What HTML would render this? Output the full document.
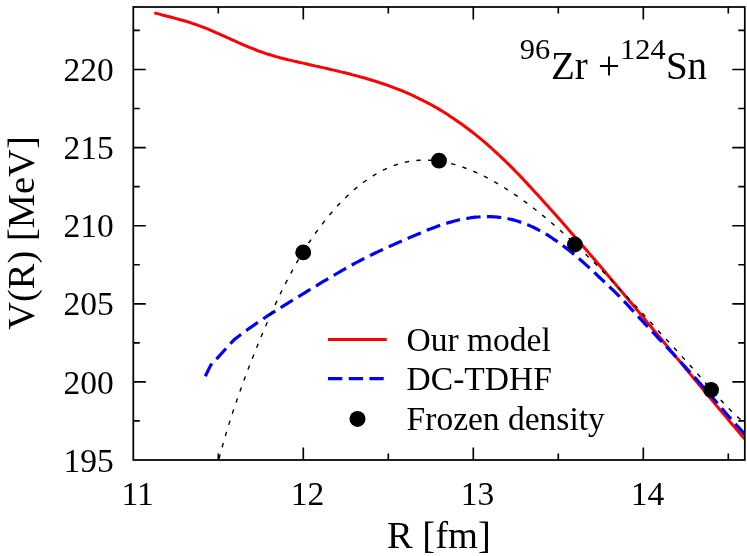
<!DOCTYPE html>
<html><head><meta charset="utf-8"><title>plot</title>
<style>
html,body{margin:0;padding:0;background:#fff;}
body{width:747px;height:556px;overflow:hidden;position:relative;font-family:"Liberation Serif",serif;}
svg{position:absolute;left:0;top:0;will-change:transform;}
text{font-family:"Liberation Serif",serif;fill:#000;}
</style></head><body>
<svg width="747" height="556" viewBox="0 0 747 556">
<rect x="0" y="0" width="747" height="556" fill="#fff"/>
<defs><clipPath id="c"><rect x="133.3" y="7.0" width="611.5" height="453.0"/></clipPath></defs>

<g clip-path="url(#c)" fill="none">
<path d="M154.3,12.9 L156.3,13.4 L158.3,13.9 L160.3,14.4 L162.3,15.0 L164.3,15.5 L166.3,16.0 L168.3,16.5 L170.3,17.0 L172.3,17.5 L174.2,18.1 L176.2,18.6 L178.2,19.1 L180.2,19.7 L182.2,20.3 L184.2,20.8 L186.2,21.4 L188.2,22.0 L190.2,22.6 L192.2,23.3 L194.2,24.0 L196.2,24.6 L198.2,25.4 L200.2,26.1 L202.2,26.9 L204.2,27.6 L206.2,28.4 L208.2,29.2 L210.2,30.1 L212.2,30.9 L214.1,31.8 L216.1,32.7 L218.1,33.5 L220.1,34.4 L222.1,35.3 L224.1,36.2 L226.1,37.1 L228.1,38.0 L230.1,38.9 L232.1,39.8 L234.1,40.7 L236.1,41.6 L238.1,42.5 L240.1,43.4 L242.1,44.3 L244.1,45.1 L246.1,46.0 L248.1,46.8 L250.1,47.6 L252.1,48.4 L254.0,49.2 L256.0,50.0 L258.0,50.8 L260.0,51.5 L262.0,52.2 L264.0,52.9 L266.0,53.6 L268.0,54.2 L270.0,54.8 L272.0,55.4 L274.0,56.0 L276.0,56.6 L278.0,57.1 L280.0,57.7 L282.0,58.2 L284.0,58.7 L286.0,59.2 L288.0,59.7 L290.0,60.1 L292.0,60.6 L293.9,61.1 L295.9,61.5 L297.9,62.0 L299.9,62.5 L301.9,62.9 L303.9,63.4 L305.9,63.8 L307.9,64.3 L309.9,64.7 L311.9,65.2 L313.9,65.6 L315.9,66.1 L317.9,66.5 L319.9,67.0 L321.9,67.4 L323.9,67.9 L325.9,68.3 L327.9,68.8 L329.9,69.2 L331.8,69.7 L333.8,70.1 L335.8,70.6 L337.8,71.1 L339.8,71.6 L341.8,72.1 L343.8,72.5 L345.8,73.0 L347.8,73.5 L349.8,74.0 L351.8,74.6 L353.8,75.1 L355.8,75.6 L357.8,76.1 L359.8,76.7 L361.8,77.2 L363.8,77.8 L365.8,78.4 L367.8,79.0 L369.8,79.5 L371.7,80.2 L373.7,80.8 L375.7,81.4 L377.7,82.0 L379.7,82.7 L381.7,83.3 L383.7,84.0 L385.7,84.7 L387.7,85.4 L389.7,86.1 L391.7,86.8 L393.7,87.6 L395.7,88.3 L397.7,89.1 L399.7,89.9 L401.7,90.7 L403.7,91.5 L405.7,92.4 L407.7,93.2 L409.7,94.1 L411.6,95.0 L413.6,95.9 L415.6,96.9 L417.6,97.8 L419.6,98.8 L421.6,99.8 L423.6,100.8 L425.6,101.8 L427.6,102.9 L429.6,103.9 L431.6,105.0 L433.6,106.1 L435.6,107.3 L437.6,108.4 L439.6,109.6 L441.6,110.8 L443.6,112.0 L445.6,113.3 L447.6,114.6 L449.6,115.9 L451.5,117.2 L453.5,118.5 L455.5,119.9 L457.5,121.2 L459.5,122.7 L461.5,124.1 L463.5,125.5 L465.5,127.0 L467.5,128.5 L469.5,130.0 L471.5,131.5 L473.5,133.1 L475.5,134.7 L477.5,136.3 L479.5,137.9 L481.5,139.6 L483.5,141.2 L485.5,142.9 L487.5,144.7 L489.4,146.4 L491.4,148.2 L493.4,150.0 L495.4,151.8 L497.4,153.6 L499.4,155.5 L501.4,157.4 L503.4,159.3 L505.4,161.2 L507.4,163.2 L509.4,165.1 L511.4,167.1 L513.4,169.1 L515.4,171.2 L517.4,173.2 L519.4,175.3 L521.4,177.4 L523.4,179.5 L525.4,181.6 L527.4,183.7 L529.3,185.9 L531.3,188.0 L533.3,190.2 L535.3,192.4 L537.3,194.6 L539.3,196.8 L541.3,199.0 L543.3,201.2 L545.3,203.4 L547.3,205.6 L549.3,207.9 L551.3,210.1 L553.3,212.3 L555.3,214.6 L557.3,216.8 L559.3,219.1 L561.3,221.3 L563.3,223.6 L565.3,225.9 L567.3,228.1 L569.2,230.4 L571.2,232.7 L573.2,235.0 L575.2,237.2 L577.2,239.5 L579.2,241.8 L581.2,244.1 L583.2,246.4 L585.2,248.7 L587.2,251.0 L589.2,253.4 L591.2,255.7 L593.2,258.0 L595.2,260.3 L597.2,262.7 L599.2,265.0 L601.2,267.3 L603.2,269.7 L605.2,272.0 L607.1,274.4 L609.1,276.7 L611.1,279.1 L613.1,281.5 L615.1,283.8 L617.1,286.2 L619.1,288.6 L621.1,290.9 L623.1,293.3 L625.1,295.7 L627.1,298.1 L629.1,300.4 L631.1,302.8 L633.1,305.2 L635.1,307.6 L637.1,310.0 L639.1,312.4 L641.1,314.8 L643.1,317.2 L645.1,319.6 L647.0,322.0 L649.0,324.4 L651.0,326.8 L653.0,329.2 L655.0,331.6 L657.0,334.0 L659.0,336.4 L661.0,338.8 L663.0,341.2 L665.0,343.6 L667.0,346.0 L669.0,348.4 L671.0,350.9 L673.0,353.3 L675.0,355.7 L677.0,358.1 L679.0,360.5 L681.0,362.9 L683.0,365.3 L685.0,367.7 L686.9,370.1 L688.9,372.5 L690.9,374.9 L692.9,377.3 L694.9,379.7 L696.9,382.1 L698.9,384.5 L700.9,386.9 L702.9,389.3 L704.9,391.7 L706.9,394.1 L708.9,396.5 L710.9,398.9 L712.9,401.3 L714.9,403.7 L716.9,406.1 L718.9,408.4 L720.9,410.8 L722.9,413.2 L724.9,415.6 L726.8,417.9 L728.8,420.3 L730.8,422.7 L732.8,425.0 L734.8,427.4 L736.8,429.7 L738.8,432.1 L740.8,434.4 L742.8,436.8 L744.8,439.1" stroke="#ff0000" stroke-width="3" stroke-linejoin="round"/>
<path d="M205.3,376.3 L210.6,365.4 L234.0,339.8 L236.0,338.2 L238.0,336.7 L240.0,335.2 L242.0,333.7 L244.0,332.2 L246.0,330.7 L248.0,329.3 L250.0,327.9 L252.0,326.5 L254.0,325.1 L255.9,323.7 L257.9,322.3 L259.9,321.0 L261.9,319.7 L263.9,318.3 L265.9,317.0 L267.9,315.7 L269.9,314.4 L271.9,313.2 L273.9,311.9 L275.9,310.6 L277.9,309.4 L279.9,308.1 L281.9,306.9 L283.9,305.6 L285.9,304.4 L287.9,303.2 L289.9,301.9 L291.9,300.7 L293.9,299.5 L295.9,298.3 L297.9,297.1 L299.8,295.8 L301.8,294.6 L303.8,293.4 L305.8,292.2 L307.8,290.9 L309.8,289.7 L311.8,288.5 L313.8,287.3 L315.8,286.1 L317.8,284.9 L319.8,283.7 L321.8,282.4 L323.8,281.2 L325.8,280.1 L327.8,278.9 L329.8,277.7 L331.8,276.5 L333.8,275.3 L335.8,274.2 L337.8,273.0 L339.8,271.8 L341.7,270.7 L343.7,269.6 L345.7,268.4 L347.7,267.3 L349.7,266.2 L351.7,265.1 L353.7,264.0 L355.7,262.9 L357.7,261.9 L359.7,260.8 L361.7,259.8 L363.7,258.7 L365.7,257.7 L367.7,256.7 L369.7,255.7 L371.7,254.8 L373.7,253.8 L375.7,252.8 L377.7,251.9 L379.7,250.9 L381.7,250.0 L383.6,249.1 L385.6,248.2 L387.6,247.3 L389.6,246.4 L391.6,245.5 L393.6,244.6 L395.6,243.7 L397.6,242.8 L399.6,241.9 L401.6,241.1 L403.6,240.2 L405.6,239.4 L407.6,238.5 L409.6,237.6 L411.6,236.8 L413.6,235.9 L415.6,235.1 L417.6,234.2 L419.6,233.4 L421.6,232.6 L423.6,231.7 L425.5,230.9 L427.5,230.1 L429.5,229.3 L431.5,228.6 L433.5,227.8 L435.5,227.1 L437.5,226.3 L439.5,225.6 L441.5,225.0 L443.5,224.3 L445.5,223.6 L447.5,223.0 L449.5,222.4 L451.5,221.9 L453.5,221.3 L455.5,220.8 L457.5,220.3 L459.5,219.8 L461.5,219.4 L463.5,219.0 L465.5,218.6 L467.5,218.3 L469.4,218.0 L471.4,217.7 L473.4,217.4 L475.4,217.2 L477.4,217.0 L479.4,216.9 L481.4,216.7 L483.4,216.7 L485.4,216.6 L487.4,216.6 L489.4,216.6 L491.4,216.7 L493.4,216.8 L495.4,216.9 L497.4,217.1 L499.4,217.3 L501.4,217.5 L503.4,217.8 L505.4,218.2 L507.4,218.5 L509.4,219.0 L511.3,219.4 L513.3,219.9 L515.3,220.5 L517.3,221.0 L519.3,221.7 L521.3,222.4 L523.3,223.1 L525.3,223.8 L527.3,224.6 L529.3,225.5 L531.3,226.4 L533.3,227.3 L535.3,228.3 L537.3,229.3 L539.3,230.4 L541.3,231.4 L543.3,232.6 L545.3,233.7 L547.3,234.9 L549.3,236.2 L551.3,237.5 L553.2,238.8 L555.2,240.1 L557.2,241.5 L559.2,242.9 L561.2,244.4 L563.2,245.8 L565.2,247.4 L567.2,248.9 L569.2,250.5 L571.2,252.1 L573.2,253.7 L575.2,255.4 L577.2,257.1 L579.2,258.8 L581.2,260.5 L583.2,262.3 L585.2,264.1 L587.2,265.9 L589.2,267.7 L591.2,269.5 L593.2,271.4 L595.2,273.2 L597.1,275.1 L599.1,277.0 L601.1,278.9 L603.1,280.7 L605.1,282.6 L607.1,284.5 L609.1,286.4 L611.1,288.3 L613.1,290.2 L615.1,292.1 L617.1,294.1 L619.1,296.1 L621.1,298.1 L623.1,300.2 L625.1,302.3 L627.1,304.4 L629.1,306.6 L631.1,308.8 L633.1,310.9 L635.1,313.1 L637.1,315.3 L639.0,317.4 L641.0,319.6 L643.0,321.7 L645.0,323.9 L647.0,326.0 L649.0,328.1 L651.0,330.3 L653.0,332.4 L655.0,334.5 L657.0,336.6 L659.0,338.8 L661.0,340.9 L663.0,343.0 L665.0,345.2 L667.0,347.3 L669.0,349.4 L671.0,351.6 L673.0,353.7 L675.0,355.8 L677.0,358.0 L679.0,360.2 L680.9,362.3 L682.9,364.5 L684.9,366.7 L686.9,368.9 L688.9,371.0 L690.9,373.3 L692.9,375.5 L694.9,377.7 L696.9,379.9 L698.9,382.2 L700.9,384.4 L702.9,386.7 L704.9,389.0 L706.9,391.3 L708.9,393.5 L710.9,395.8 L712.9,398.1 L714.9,400.4 L716.9,402.7 L718.9,405.0 L720.9,407.3 L722.9,409.6 L724.8,411.9 L726.8,414.2 L728.8,416.5 L730.8,418.7 L732.8,421.0 L734.8,423.3 L736.8,425.5 L738.8,427.7 L740.8,429.9 L742.8,432.1 L744.8,434.3" stroke="#0000ff" stroke-width="3.2" stroke-dasharray="14.3 6.4" stroke-linejoin="round"/>
<path d="M219.1,458.6 L221.1,451.0 L223.1,443.8 L225.1,436.8 L227.1,430.1 L229.1,423.6 L231.1,417.4 L233.1,411.3 L235.1,405.3 L237.1,399.5 L239.1,393.8 L241.1,388.2 L243.1,382.7 L245.1,377.2 L247.1,371.9 L249.1,366.7 L251.1,361.5 L253.1,356.4 L255.1,351.4 L257.1,346.4 L259.1,341.5 L261.1,336.7 L263.1,332.0 L265.1,327.3 L267.1,322.7 L269.1,318.2 L271.1,313.7 L273.1,309.3 L275.1,304.9 L277.1,300.7 L279.1,296.5 L281.1,292.3 L283.1,288.3 L285.1,284.3 L287.1,280.4 L289.1,276.5 L291.1,272.8 L293.1,269.1 L295.1,265.5 L297.1,261.9 L299.1,258.5 L301.1,255.2 L303.1,251.9 L305.1,248.7 L307.0,245.6 L309.0,242.5 L311.0,239.5 L313.0,236.6 L315.0,233.8 L317.0,231.0 L319.0,228.3 L321.0,225.7 L323.0,223.1 L325.0,220.5 L327.0,218.1 L329.0,215.6 L331.0,213.3 L333.0,211.0 L335.0,208.7 L337.0,206.5 L339.0,204.3 L341.0,202.2 L343.0,200.2 L345.0,198.2 L347.0,196.3 L349.0,194.4 L351.0,192.5 L353.0,190.8 L355.0,189.0 L357.0,187.4 L359.0,185.7 L361.0,184.2 L363.0,182.6 L365.0,181.2 L367.0,179.8 L369.0,178.4 L371.0,177.1 L373.0,175.8 L375.0,174.6 L377.0,173.4 L379.0,172.3 L381.0,171.3 L383.0,170.2 L385.0,169.3 L387.0,168.4 L389.0,167.5 L391.0,166.7 L393.0,165.9 L395.0,165.2 L397.0,164.5 L399.0,163.9 L401.0,163.3 L403.0,162.8 L405.0,162.3 L407.0,161.9 L409.0,161.5 L411.0,161.2 L413.0,160.9 L415.0,160.7 L417.0,160.5 L419.0,160.3 L421.0,160.2 L423.0,160.2 L425.0,160.1 L427.0,160.2 L429.0,160.2 L431.0,160.3 L433.0,160.5 L435.0,160.7 L437.0,160.9 L439.0,161.2 L441.0,161.5 L443.0,161.8 L445.0,162.2 L447.0,162.6 L449.0,163.1 L451.0,163.6 L453.0,164.1 L455.0,164.7 L457.0,165.3 L459.0,165.9 L461.0,166.5 L463.0,167.2 L465.0,168.0 L467.0,168.7 L469.0,169.5 L471.0,170.3 L473.0,171.1 L475.0,172.0 L477.0,172.9 L479.0,173.8 L481.0,174.8 L482.9,175.7 L484.9,176.7 L486.9,177.7 L488.9,178.8 L490.9,179.9 L492.9,181.0 L494.9,182.1 L496.9,183.2 L498.9,184.4 L500.9,185.6 L502.9,186.8 L504.9,188.0 L506.9,189.3 L508.9,190.6 L510.9,191.9 L512.9,193.2 L514.9,194.6 L516.9,195.9 L518.9,197.3 L520.9,198.7 L522.9,200.2 L524.9,201.6 L526.9,203.1 L528.9,204.6 L530.9,206.1 L532.9,207.7 L534.9,209.2 L536.9,210.8 L538.9,212.4 L540.9,214.0 L542.9,215.6 L544.9,217.2 L546.9,218.9 L548.9,220.6 L550.9,222.3 L552.9,224.0 L554.9,225.7 L556.9,227.5 L558.9,229.2 L560.9,231.0 L562.9,232.8 L564.9,234.6 L566.9,236.4 L568.9,238.2 L570.9,240.1 L572.9,241.9 L574.9,243.8 L576.9,245.7 L578.9,247.6 L580.9,249.5 L582.9,251.5 L584.9,253.4 L586.9,255.4 L588.9,257.3 L590.9,259.3 L592.9,261.3 L594.9,263.3 L596.9,265.3 L598.9,267.3 L600.9,269.3 L602.9,271.4 L604.9,273.4 L606.9,275.5 L608.9,277.6 L610.9,279.6 L612.9,281.7 L614.9,283.8 L616.9,285.9 L618.9,288.0 L620.9,290.2 L622.9,292.3 L624.9,294.4 L626.9,296.6 L628.9,298.7 L630.9,300.8 L632.9,303.0 L634.9,305.2 L636.9,307.3 L638.9,309.5 L640.9,311.7 L642.9,313.8 L644.9,316.0 L646.9,318.2 L648.9,320.4 L650.9,322.5 L652.9,324.7 L654.9,326.9 L656.9,329.1 L658.8,331.3 L660.8,333.4 L662.8,335.6 L664.8,337.8 L666.8,340.0 L668.8,342.1 L670.8,344.3 L672.8,346.5 L674.8,348.6 L676.8,350.8 L678.8,353.0 L680.8,355.2 L682.8,357.4 L684.8,359.6 L686.8,361.8 L688.8,364.0 L690.8,366.2 L692.8,368.5 L694.8,370.7 L696.8,373.0 L698.8,375.2 L700.8,377.5 L702.8,379.8 L704.8,382.1 L706.8,384.4 L708.8,386.7 L710.8,388.9 L712.8,391.2 L714.8,393.5 L716.8,395.7 L718.8,397.9 L720.8,400.1 L722.8,402.2 L724.8,404.4 L726.8,406.5 L728.8,408.5 L730.8,410.5 L732.8,412.5 L734.8,414.4 L736.8,416.2 L738.8,418.0 L740.8,419.7 L742.8,421.4 L744.8,423.0" stroke="#000" stroke-width="1.4" stroke-dasharray="4.4 7.3"/>
<circle cx="303.2" cy="252.4" r="7.9" fill="#000"/>
<circle cx="439.0" cy="160.7" r="7.9" fill="#000"/>
<circle cx="574.9" cy="244.5" r="7.9" fill="#000"/>
<circle cx="711.1" cy="389.8" r="7.9" fill="#000"/>
</g>
<rect x="133.3" y="7.0" width="611.5" height="453.0" fill="none" stroke="#000" stroke-width="1.75"/>
<path d="M218.3,460.0v-6.5M218.3,7.0v6.5M303.3,460.0v-12.5M303.3,7.0v12.5M388.3,460.0v-6.5M388.3,7.0v6.5M473.3,460.0v-12.5M473.3,7.0v12.5M558.3,460.0v-6.5M558.3,7.0v6.5M643.3,460.0v-12.5M643.3,7.0v12.5M728.3,460.0v-6.5M728.3,7.0v6.5M133.3,420.9h6.5M744.8,420.9h-6.5M133.3,381.9h12.5M744.8,381.9h-12.5M133.3,342.8h6.5M744.8,342.8h-6.5M133.3,303.8h12.5M744.8,303.8h-12.5M133.3,264.7h6.5M744.8,264.7h-6.5M133.3,225.7h12.5M744.8,225.7h-12.5M133.3,186.6h6.5M744.8,186.6h-6.5M133.3,147.6h12.5M744.8,147.6h-12.5M133.3,108.5h6.5M744.8,108.5h-6.5M133.3,69.5h12.5M744.8,69.5h-12.5M133.3,30.4h6.5M744.8,30.4h-6.5" stroke="#000" stroke-width="1.65" fill="none"/>
<text x="137.6" y="504.6" font-size="33.5" text-anchor="middle">11</text>
<text x="307.6" y="504.6" font-size="33.5" text-anchor="middle">12</text>
<text x="477.6" y="504.6" font-size="33.5" text-anchor="middle">13</text>
<text x="647.6" y="504.6" font-size="33.5" text-anchor="middle">14</text>
<text x="113.8" y="471.6" font-size="33.5" text-anchor="end">195</text>
<text x="113.8" y="393.5" font-size="33.5" text-anchor="end">200</text>
<text x="113.8" y="315.4" font-size="33.5" text-anchor="end">205</text>
<text x="113.8" y="237.3" font-size="33.5" text-anchor="end">210</text>
<text x="113.8" y="159.2" font-size="33.5" text-anchor="end">215</text>
<text x="113.8" y="81.1" font-size="33.5" text-anchor="end">220</text>
<text x="387" y="547.5" font-size="38.5">R [fm]</text>
<text transform="translate(33.8,329.8) rotate(-90)" font-size="38.5">V(R) [MeV]</text>
<text x="519.7" y="59" font-size="30.4">96</text><text x="550.9" y="79" font-size="39">Zr</text><text x="598.1" y="79" font-size="39">+</text><text x="620" y="59" font-size="30.4">124</text><text x="665.9" y="79" font-size="39">Sn</text>
<path d="M328,339.4H386.7" stroke="#ff0000" stroke-width="3"/>
<path d="M328,378.7H386.7" stroke="#0000ff" stroke-width="3.2" stroke-dasharray="14.3 6.4"/>
<circle cx="357.5" cy="418.9" r="8" fill="#000"/>
<text x="406.6" y="350.8" font-size="33.5">Our model</text>
<text x="406.6" y="390.2" font-size="33.5">DC-TDHF</text>
<text x="406.6" y="429.7" font-size="33.5">Frozen density</text>
</svg></body></html>
